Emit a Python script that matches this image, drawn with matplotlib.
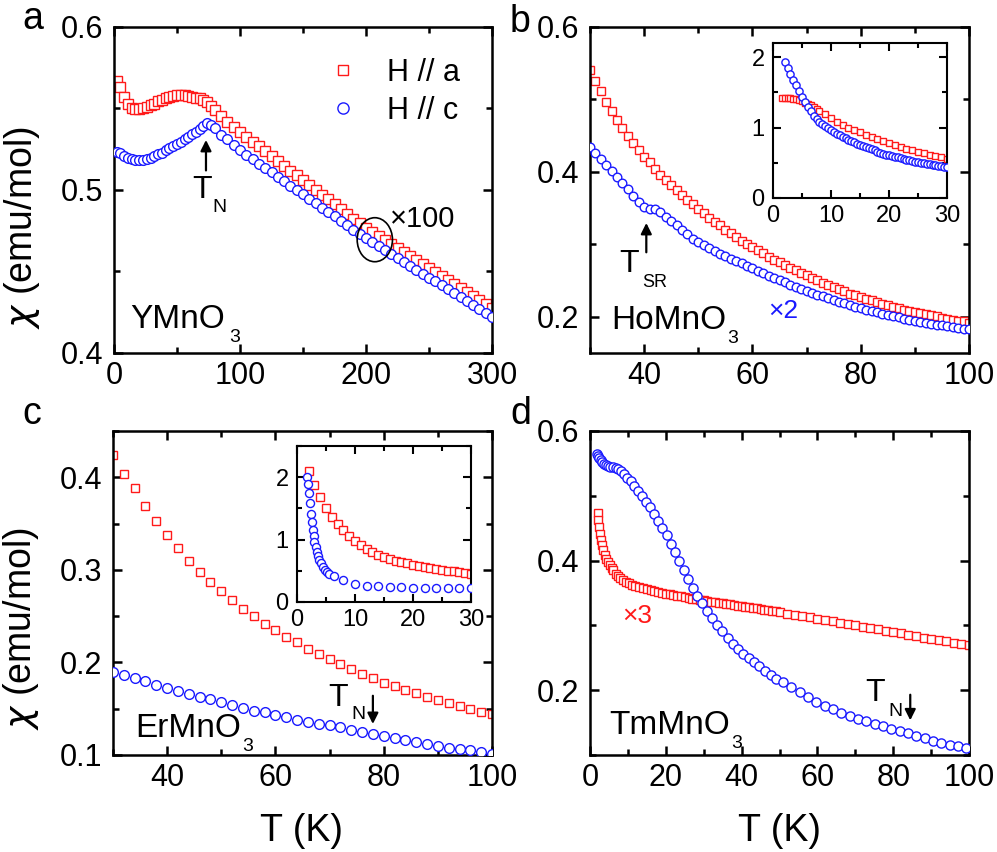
import matplotlib
matplotlib.use('Agg')
import matplotlib.pyplot as plt
from matplotlib.patches import Ellipse
from matplotlib.ticker import MultipleLocator

plt.rcParams['font.family'] = ['Liberation Sans', 'DejaVu Sans']
plt.rcParams['mathtext.fontset'] = 'dejavusans'

# ---------------- Panel a: YMnO3 (x100) ----------------
T_a = list(range(2, 81, 3)) + list(range(85, 301, 5))
chi_a_Ha = [0.567, 0.563, 0.557, 0.553, 0.5505, 0.5497, 0.5495, 0.550, 0.551, 0.552,
            0.553, 0.5545, 0.5555, 0.5565, 0.5572, 0.5577, 0.558, 0.558, 0.558, 0.5577,
            0.5572, 0.5567, 0.5562, 0.5555, 0.554, 0.5515, 0.549,
            0.5455, 0.542, 0.5385, 0.5355, 0.5326, 0.5296, 0.5267, 0.5237, 0.5208, 0.5178,
            0.5149, 0.5119, 0.509, 0.506, 0.5031, 0.5001, 0.4972, 0.4942, 0.4913, 0.4883,
            0.4854, 0.4824, 0.4795, 0.4765, 0.4741, 0.4716, 0.4692, 0.4667, 0.4643, 0.4618,
            0.4594, 0.4569, 0.4545, 0.452, 0.4496, 0.4471, 0.4447, 0.4422, 0.4398, 0.4373,
            0.4349, 0.4324, 0.430, 0.4275]
chi_a_Hc = [0.5235, 0.5225, 0.521, 0.5197, 0.519, 0.5185, 0.5183, 0.5186, 0.519, 0.5198,
            0.5207, 0.5218, 0.523, 0.5243, 0.5256, 0.5269, 0.5283, 0.5297, 0.5311, 0.5326,
            0.5342, 0.5358, 0.5375, 0.5395, 0.541, 0.5398, 0.5378,
            0.534, 0.531, 0.5275, 0.5243, 0.5216, 0.5189, 0.5162, 0.5135, 0.5108, 0.5081,
            0.5054, 0.5027, 0.500, 0.4973, 0.4946, 0.4919, 0.4892, 0.4865, 0.4838, 0.4811,
            0.4784, 0.4757, 0.473, 0.4703, 0.4679, 0.4655, 0.4631, 0.4607, 0.4583, 0.4559,
            0.4535, 0.4511, 0.4487, 0.4463, 0.4439, 0.4415, 0.4391, 0.4367, 0.4343, 0.4319,
            0.4295, 0.4271, 0.4247, 0.4223]

# ---------------- Panel b: HoMnO3 (H//c x2) ----------------
T_b = list(range(30, 101))
chi_b_Ha = [0.540, 0.525, 0.511, 0.497, 0.484, 0.472, 0.461, 0.450, 0.440, 0.430,
            0.421, 0.413, 0.404, 0.396, 0.389, 0.382, 0.375, 0.368, 0.361, 0.355,
            0.349, 0.343, 0.337, 0.331, 0.326, 0.320, 0.315, 0.310, 0.305, 0.300,
            0.296, 0.292, 0.288, 0.283, 0.279, 0.2755, 0.272, 0.268, 0.264, 0.261,
            0.257, 0.254, 0.251, 0.247, 0.244, 0.241, 0.238, 0.235, 0.232, 0.230,
            0.227, 0.225, 0.223, 0.220, 0.218, 0.216, 0.214, 0.212, 0.210, 0.208,
            0.2065, 0.205, 0.2035, 0.202, 0.2005, 0.199, 0.1975, 0.196, 0.1948, 0.1935,
            0.192]
chi_b_Hc = [0.435, 0.426, 0.418, 0.409, 0.401, 0.393, 0.384, 0.376, 0.367, 0.359,
            0.352, 0.349, 0.349, 0.344, 0.338, 0.332, 0.326, 0.320, 0.314, 0.308,
            0.303, 0.299, 0.295, 0.291, 0.287, 0.284, 0.280, 0.277, 0.274, 0.2705,
            0.267, 0.2635, 0.260, 0.2565, 0.2535, 0.2505, 0.2475, 0.2445, 0.2415, 0.2388,
            0.236, 0.233, 0.2305, 0.228, 0.2255, 0.223, 0.221, 0.2185, 0.2163, 0.2138,
            0.2115, 0.2097, 0.2078, 0.206, 0.2042, 0.2025, 0.2008, 0.1992, 0.1976, 0.196,
            0.1945, 0.1932, 0.1919, 0.1906, 0.1893, 0.188, 0.1869, 0.1858, 0.1847, 0.1836,
            0.1825]

# inset b (low T)
T_bi_Ha = [1.5, 2, 2.5, 3, 3.5, 4, 4.5, 5, 5.5, 6, 6.5, 7, 7.5, 8,
           9, 10, 11, 12, 13, 14, 15, 16, 17, 18, 19, 20, 21, 22, 23, 24, 25, 26, 27, 28, 29, 30]
chi_bi_Ha = [1.425, 1.425, 1.42, 1.415, 1.41, 1.40, 1.39, 1.375, 1.355, 1.335, 1.315, 1.29, 1.265, 1.24,
             1.19, 1.135, 1.085, 1.04, 1.0, 0.965, 0.935, 0.9, 0.87, 0.84, 0.805, 0.775, 0.75,
             0.725, 0.70, 0.675, 0.655, 0.635, 0.615, 0.595, 0.578, 0.56]
T_bi_Hc = [2.0, 2.5, 3.0, 3.5, 4.0, 4.5, 5.0, 5.5, 6.0, 6.5, 7.0, 7.5, 8.0, 8.5, 9.0, 9.5,
           10.0, 10.5, 11.0, 11.5, 12.0, 12.5, 13.0, 13.5, 14.0, 14.5, 15.0, 15.5, 16.0, 16.5,
           17.0, 17.5, 18.0, 18.5, 19.0, 19.5, 20.0, 20.5, 21.0, 21.5, 22.0, 22.5, 23.0, 23.5,
           24.0, 24.5, 25.0, 25.5, 26.0, 26.5, 27.0, 27.5, 28.0, 28.5, 29.0, 29.5, 30.0]
chi_bi_Hc = [1.93, 1.85, 1.76, 1.68, 1.60, 1.52, 1.43, 1.36, 1.29, 1.23, 1.17, 1.12, 1.08, 1.05,
             1.02, 0.99, 0.96, 0.935, 0.91, 0.89, 0.87, 0.85, 0.83, 0.81, 0.79, 0.77, 0.75,
             0.735, 0.72, 0.705, 0.69, 0.675, 0.66, 0.645, 0.63, 0.617, 0.605, 0.595, 0.585,
             0.575, 0.565, 0.555, 0.545, 0.535, 0.525, 0.517, 0.51, 0.502, 0.495, 0.487, 0.48,
             0.472, 0.465, 0.457, 0.45, 0.445, 0.44]

# ---------------- Panel c: ErMnO3 ----------------
T_c = list(range(30, 101, 2))
chi_c_Ha = [0.424, 0.404, 0.388, 0.369, 0.353, 0.338, 0.324, 0.310, 0.298, 0.287,
            0.277, 0.267, 0.258, 0.250, 0.242, 0.235, 0.228, 0.222, 0.215, 0.209,
            0.204, 0.198, 0.193, 0.188, 0.183, 0.178, 0.174, 0.170, 0.167, 0.163,
            0.159, 0.156, 0.153, 0.150, 0.146, 0.144]
chi_c_Hc = [0.190, 0.186, 0.183, 0.180, 0.176, 0.172, 0.169, 0.166, 0.163, 0.160,
            0.157, 0.154, 0.151, 0.148, 0.146, 0.143, 0.141, 0.138, 0.136, 0.134,
            0.132, 0.130, 0.127, 0.125, 0.123, 0.121, 0.118, 0.116, 0.114, 0.112,
            0.110, 0.108, 0.106, 0.105, 0.103, 0.101]

# inset c
T_ci_Ha = list(range(2, 31))
chi_ci_Ha = [2.10, 1.87, 1.68, 1.51, 1.37, 1.25, 1.15, 1.06, 0.98, 0.91, 0.85, 0.80, 0.76, 0.72,
             0.69, 0.66, 0.64, 0.62, 0.60, 0.58, 0.56, 0.545, 0.53, 0.515, 0.50, 0.49, 0.475,
             0.46, 0.445]
T_ci_Hc = [1.8, 1.95, 2.1, 2.25, 2.4, 2.55, 2.7, 2.85, 3.0, 3.2, 3.4, 3.6, 3.85, 4.1, 4.4,
           4.75, 5.1, 5.5, 6.3, 8, 10, 12, 14, 16, 18, 20, 22, 24, 26, 28, 30]
chi_ci_Hc = [2.0, 1.89, 1.75, 1.58, 1.41, 1.28, 1.16, 1.05, 0.96, 0.88, 0.80, 0.74, 0.67, 0.62,
             0.56, 0.52, 0.48, 0.45, 0.41, 0.35, 0.285, 0.262, 0.25, 0.24, 0.235, 0.23, 0.227,
             0.225, 0.223, 0.222, 0.22]

# ---------------- Panel d: TmMnO3 (H//a x3) ----------------
T_d_Ha = [2.0, 2.2, 2.4, 2.6, 2.9, 3.2, 3.5, 3.9, 4.3, 4.7, 5.2, 5.7, 6.2, 6.8, 7.4, 8.0, 8.7,
          9.4, 10.2, 11.0, 12, 13, 14, 15, 16, 17, 18, 19, 20, 21, 22, 23, 24, 25, 26, 27, 28,
          29, 30, 31, 32, 33, 34, 35, 36, 37, 38, 39, 40, 41, 42, 43, 44, 45, 46, 47, 48, 49,
          50, 52, 54, 56, 58, 60, 62, 64, 66, 68, 70, 72, 74, 76, 78, 80, 82, 84, 86, 88, 90,
          92, 94, 96, 98, 100]
chi_d_Ha = [0.474, 0.462, 0.452, 0.441, 0.432, 0.424, 0.417, 0.409, 0.403, 0.398, 0.393, 0.389,
            0.385, 0.380, 0.3765, 0.373, 0.370, 0.3675, 0.365, 0.3628, 0.3605, 0.3585, 0.357,
            0.3555, 0.354, 0.3528, 0.3516, 0.3505, 0.3492, 0.348, 0.347, 0.3458, 0.3446,
            0.3435, 0.3424, 0.3414, 0.3404, 0.3394, 0.3385, 0.3376, 0.3367, 0.3358, 0.3349,
            0.334, 0.3332, 0.3324, 0.3316, 0.3307, 0.3298, 0.329, 0.3281, 0.3272, 0.3263,
            0.3254, 0.3245, 0.3236, 0.3226, 0.3215, 0.3203, 0.3183, 0.3163, 0.3143, 0.3123,
            0.3103, 0.3083, 0.3063, 0.3043, 0.3022, 0.3002, 0.2981, 0.296, 0.2939, 0.2918,
            0.2897, 0.2876, 0.2855, 0.2834, 0.2813, 0.2793, 0.2773, 0.2753, 0.2733, 0.2713,
            0.2693]
T_d_Hc = [1.8, 2.1, 2.4, 2.8, 3.2, 3.7, 4.2, 4.8, 5.4, 6.1, 6.8, 7.5, 8.2, 9.0, 9.8, 10.7,
          11.6, 12.6, 13.6, 14.7, 15.8, 16.9, 18.0, 19.1, 20.2, 21.3, 22.4, 23.5, 24.7, 25.9,
          27.1, 28.3, 29.6, 30.9, 32.2, 33.5, 34.9, 36.3, 37.7, 39.1, 40.5, 41.9, 43.3, 44.7,
          46.2, 47.7, 49.2, 50.9, 53.1, 55.3, 57.5, 59.7, 61.9, 64.1, 66.3, 68.5, 70.7, 72.9,
          75.1, 77.3, 79.5, 81.7, 83.9, 86.1, 88.3, 90.5, 92.7, 94.9, 97.1, 99.3]
chi_d_Hc = [0.564, 0.562, 0.559, 0.5555, 0.5525, 0.5495, 0.5475, 0.546, 0.545, 0.544, 0.543,
            0.541, 0.5375, 0.533, 0.528, 0.5225, 0.515, 0.5075, 0.4995, 0.491, 0.482, 0.472,
            0.461, 0.450, 0.439, 0.425, 0.413, 0.400, 0.386, 0.372, 0.358, 0.346, 0.334,
            0.322, 0.311, 0.301, 0.291, 0.281, 0.272, 0.264, 0.256, 0.249, 0.243, 0.237,
            0.230, 0.224, 0.218, 0.213, 0.205, 0.1975, 0.1895, 0.182, 0.176, 0.1705, 0.165,
            0.1605, 0.156, 0.152, 0.1478, 0.144, 0.1405, 0.137, 0.1335, 0.129, 0.1255,
            0.1215, 0.1182, 0.1155, 0.1135, 0.111]

RED = '#ff1a1a'
BLUE = '#1a1aff'

W, H = 997, 852
fig = plt.figure(figsize=(W / 100, H / 100), dpi=100)


def rect(l, t, r, b):
    return [l / W, 1 - b / H, (r - l) / W, (b - t) / H]


def style(ax, xlim, ylim, xmaj, xmin, ymaj, ymin, fs=22, inset=False):
    ax.set_xlim(xlim)
    ax.set_ylim(ylim)
    ax.xaxis.set_major_locator(MultipleLocator(xmaj))
    ax.xaxis.set_minor_locator(MultipleLocator(xmin))
    ax.yaxis.set_major_locator(MultipleLocator(ymaj))
    ax.yaxis.set_minor_locator(MultipleLocator(ymin))
    lw = 1.5 if inset else 1.8
    ax.tick_params(which='both', direction='in', top=True, right=True, width=lw,
                   labelsize=fs)
    ax.tick_params(which='major', length=5.5 if inset else 6.5)
    ax.tick_params(which='minor', length=3.5 if inset else 4.3)
    ax.tick_params(axis='x', pad=5 if inset else 6)
    ax.tick_params(axis='y', pad=6 if inset else 8)
    for s in ax.spines.values():
        s.set_linewidth(lw)


def series(ax, x, y, marker, color, ms, z=2):
    return ax.plot(x, y, linestyle='none', marker=marker, ms=ms, mfc='white',
                   mec=color, mew=1.0, zorder=z)[0]


def arrow(ax, x, y0, y1):
    ax.annotate('', xy=(x, y1), xytext=(x, y0),
                arrowprops=dict(arrowstyle='-|>', color='black', lw=1.6,
                                mutation_scale=16, shrinkA=0, shrinkB=0))


def compound(ax, x, y, name, dx=1.0, dy=-5.0):
    t = ax.text(x, y, name, fontsize=24, va='baseline', ha='left')
    ax.annotate('3', xy=(1, 0), xycoords=t, xytext=(dx, dy), textcoords='offset points',
                fontsize=14, ha='left', va='baseline')


def ylab(ax):
    ax.set_ylabel(r'$\chi$ (emu/mol)', fontsize=27)


axA = fig.add_axes(rect(114, 27, 492, 353))
axB = fig.add_axes(rect(590, 27, 969, 353))
axC = fig.add_axes(rect(113, 431, 492, 755))
axD = fig.add_axes(rect(590, 431, 969, 755))
insB = fig.add_axes(rect(773, 43, 947, 198))
insC = fig.add_axes(rect(297, 446, 471, 602))

# ---- a ----
la = series(axA, T_a, chi_a_Ha, 's', RED, 6.6)
lc = series(axA, T_a, chi_a_Hc, 'o', BLUE, 7.0, 3)
style(axA, (0, 300), (0.4, 0.6), 100, 50, 0.1, 0.05)
axA.legend([la, lc], ['H // a', 'H // c'], loc='upper right', bbox_to_anchor=(0.915, 0.905),
           frameon=False, fontsize=22, handlelength=1.0, handletextpad=0.95,
           labelspacing=0.25, borderaxespad=0, borderpad=0, numpoints=1, markerscale=1.15)
axA.add_patch(Ellipse((207, 0.4695), 28, 0.027, fill=False, ec='black', lw=1.2, zorder=5))
axA.text(219, 0.477, '×100', fontsize=21, va='baseline', ha='left')
arrow(axA, 73, 0.512, 0.5307)
axA.text(62, 0.4951, 'T', fontsize=23, va='baseline')
axA.text(78.0, 0.4865, 'N', fontsize=14, va='baseline')
compound(axA, 12.7, 0.4153, 'YMnO', dx=3.5)
ylab(axA)
axA.yaxis.set_label_coords(-0.19, 0.385)

# ---- b ----
series(axB, T_b, chi_b_Ha, 's', RED, 6.0)
series(axB, T_b, chi_b_Hc, 'o', BLUE, 6.2, 3)
style(axB, (30, 100), (0.15, 0.6), 20, 10, 0.2, 0.1)
arrow(axB, 40.4, 0.289, 0.3295)
axB.text(35.4, 0.2615, 'T', fontsize=23, va='baseline')
axB.text(39.6, 0.241, 'SR', fontsize=13, va='baseline')
compound(axB, 33.9, 0.1831, 'HoMnO')
axB.text(62.9, 0.1988, '×2', fontsize=19, va='baseline', color=BLUE)

series(insB, T_bi_Ha, chi_bi_Ha, 's', RED, 5.0)
series(insB, T_bi_Hc, chi_bi_Hc, 'o', BLUE, 5.2, 3)
style(insB, (0, 30), (0, 2.2), 10, 5, 1, 0.5, fs=17, inset=True)

# ---- c ----
series(axC, T_c, chi_c_Ha, 's', RED, 6.4)
series(axC, T_c, chi_c_Hc, 'o', BLUE, 7.0, 3)
style(axC, (30, 100), (0.1, 0.45), 20, 10, 0.1, 0.05)
arrow(axC, 78, 0.164, 0.1335)
axC.text(69.7, 0.1533, 'T', fontsize=23, va='baseline')
axC.text(74.0, 0.1389, 'N', fontsize=14, va='baseline')
compound(axC, 34.1, 0.119, 'ErMnO')
ylab(axC)
axC.yaxis.set_label_coords(-0.19, 0.39)
axC.set_xlabel('T (K)', fontsize=27)
axC.xaxis.set_label_coords(0.498, -0.18)

series(insC, T_ci_Ha, chi_ci_Ha, 's', RED, 5.3)
series(insC, T_ci_Hc, chi_ci_Hc, 'o', BLUE, 5.8, 3)
style(insC, (0, 30), (0, 2.5), 10, 5, 1, 0.5, fs=17, inset=True)

# ---- d ----
series(axD, T_d_Ha, chi_d_Ha, 's', RED, 5.8)
series(axD, T_d_Hc, chi_d_Hc, 'o', BLUE, 6.6, 3)
style(axD, (0, 100), (0.1, 0.6), 20, 10, 0.2, 0.1)
arrow(axD, 84.5, 0.193, 0.1535)
axD.text(72.6, 0.183, 'T', fontsize=23, va='baseline')
axD.text(78.8, 0.160, 'N', fontsize=14, va='baseline')
compound(axD, 5.0, 0.132, 'TmMnO')
axD.text(8.5, 0.303, '×3', fontsize=19, va='baseline', color=RED)
axD.set_xlabel('T (K)', fontsize=27)
axD.xaxis.set_label_coords(0.50, -0.18)

# panel letters
fig.text(22 / W, 1 - 29 / H, 'a', fontsize=27, va='baseline')
fig.text(510 / W, 1 - 32 / H, 'b', fontsize=27, va='baseline')
fig.text(22 / W, 1 - 424 / H, 'c', fontsize=27, va='baseline')
fig.text(510 / W, 1 - 424 / H, 'd', fontsize=27, va='baseline')

fig.savefig('out.png', dpi=100)
